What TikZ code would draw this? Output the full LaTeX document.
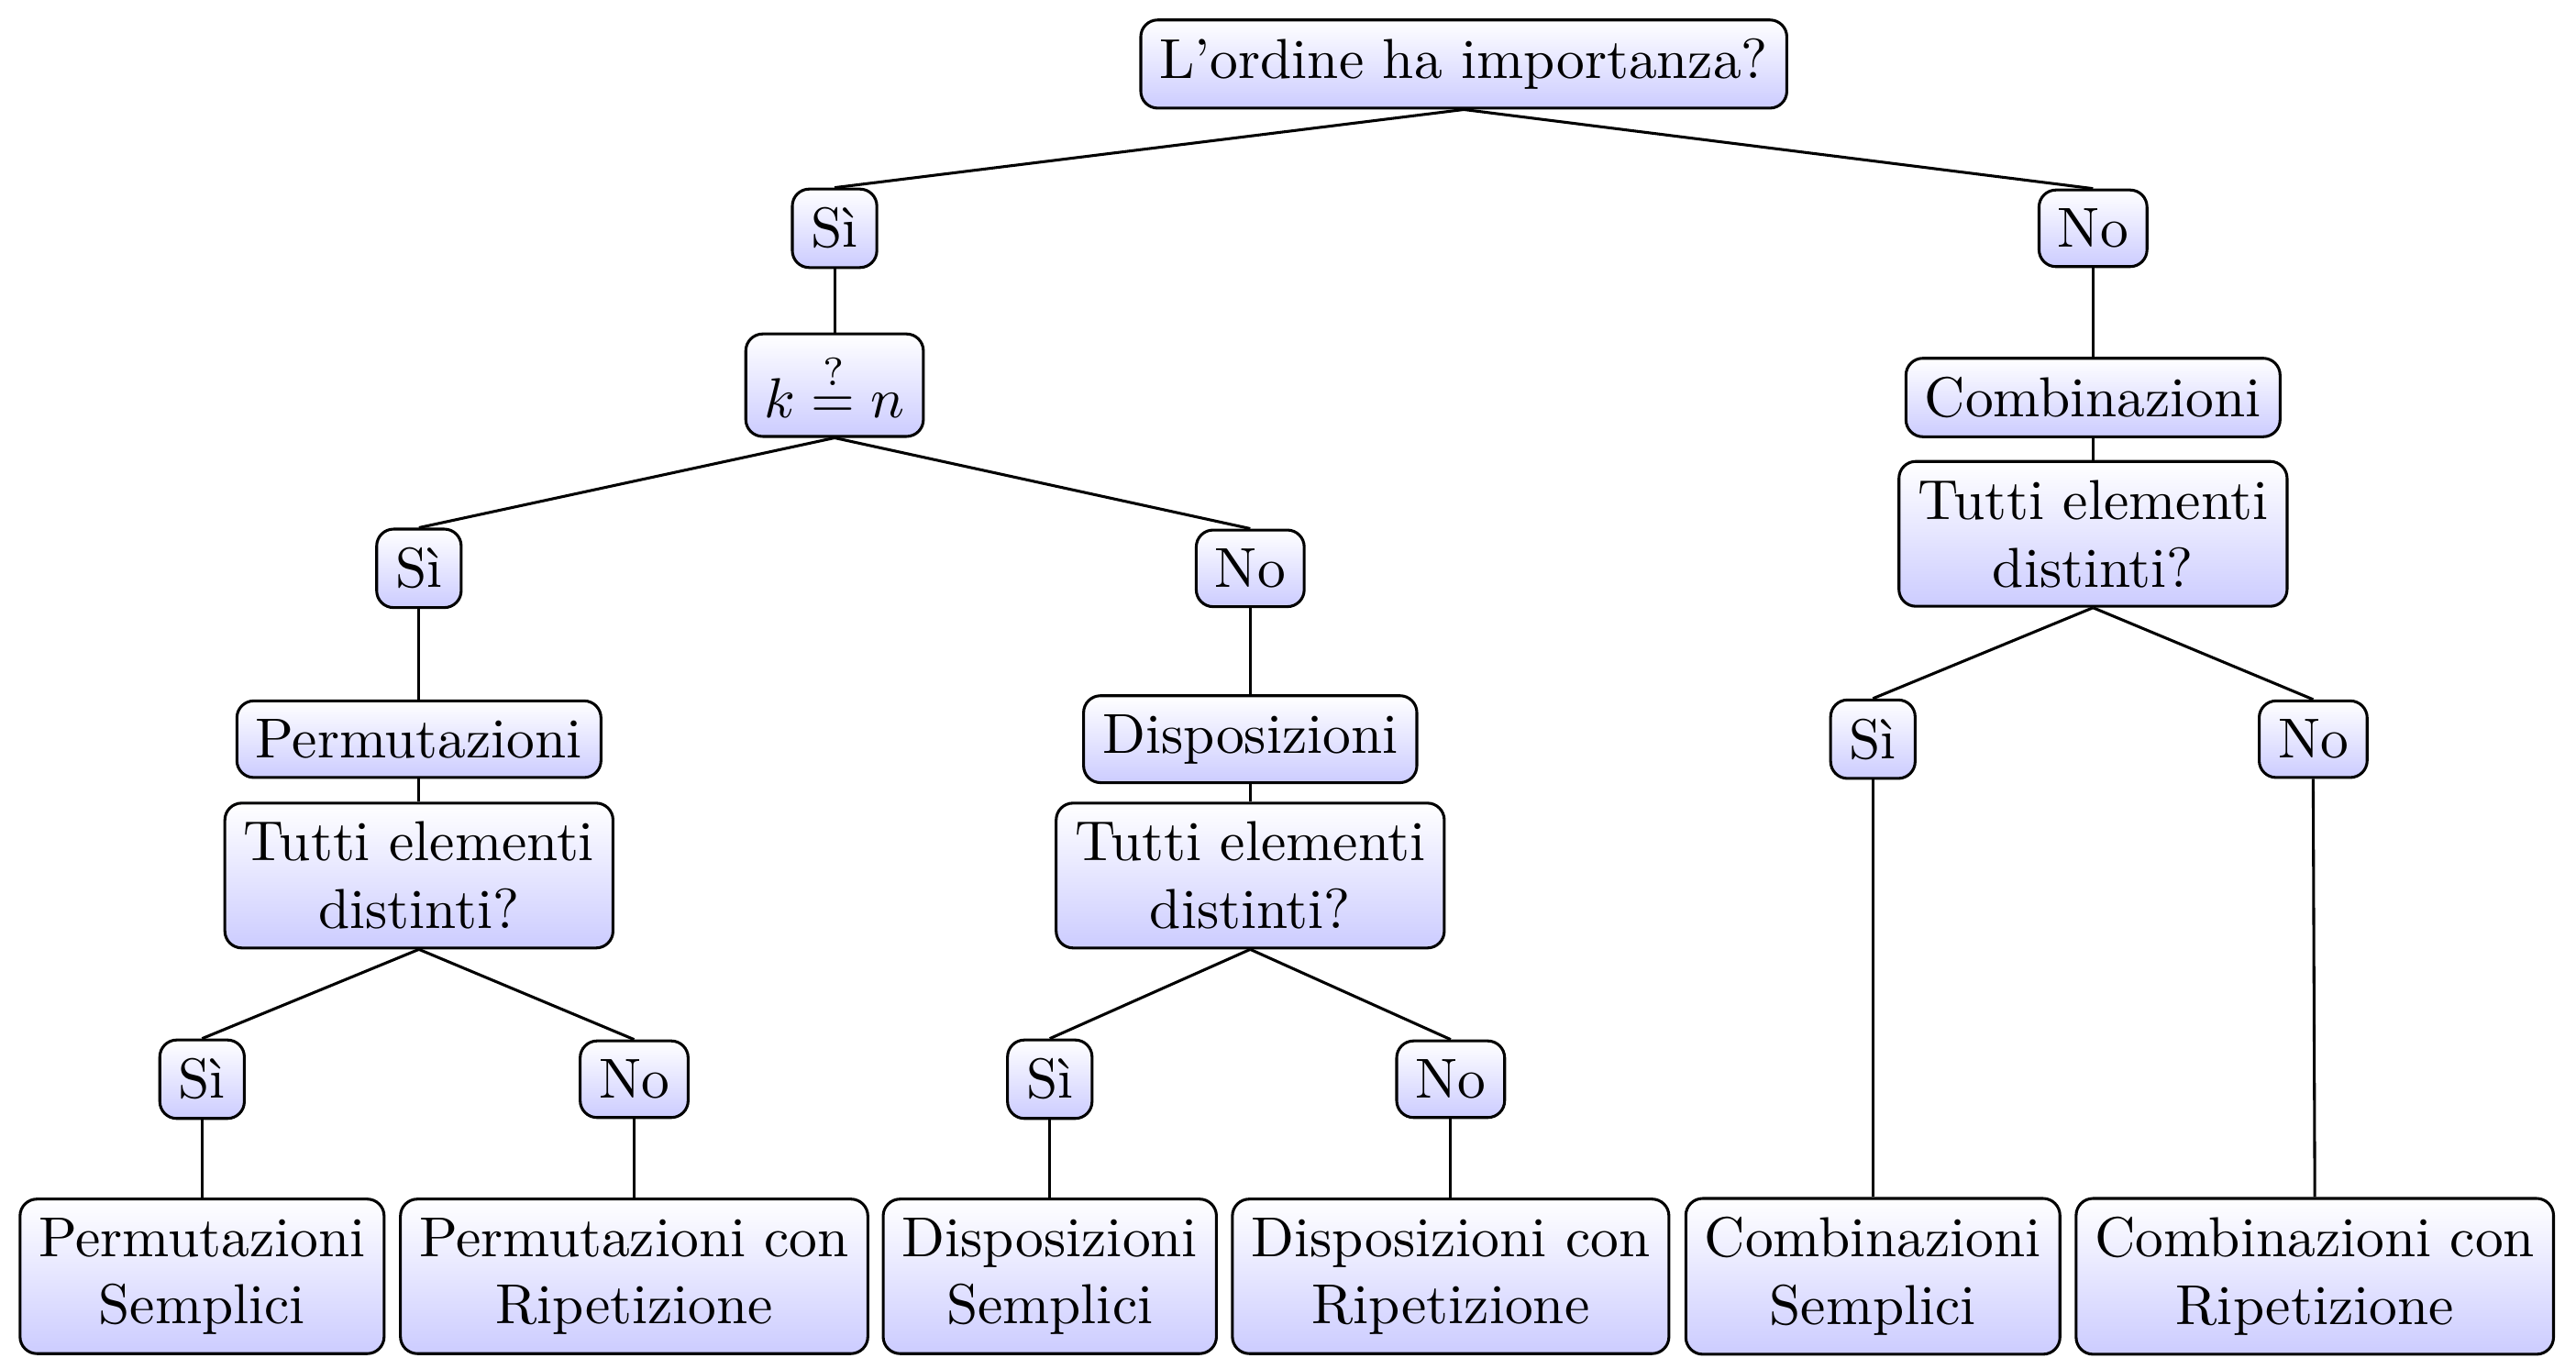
\documentclass[tikz,border=0pt]{standalone}
\begin{document}
\tikzset{
  box/.style={draw, line width=0.5pt, rounded corners=3pt, top color=white, bottom color=blue!20, align=center, inner sep=3.33pt},
  link/.style={line width=0.5pt}
}
\begin{tikzpicture}[x=0.29155pt, y=-0.29155pt]
\useasboundingbox (0,0) rectangle (1568,833);
\node[box] (top) at (891,39) {L'ordine ha importanza?};
\node[box] (s1) at (508,139) {Sì};
\node[box] (n1) at (1274,139) {No};
\node[box] (k) at (508,234.5) {$k \stackrel{?}{=} n$};
\node[box] (comb) at (1274,242) {Combinazioni};
\node[box] (tedR) at (1274,325) {Tutti elementi\\distinti?};
\node[box] (s2) at (255,346) {Sì};
\node[box] (n2) at (761,346) {No};
\node[box] (perm) at (255,450) {Permutazioni};
\node[box] (disp) at (761,450) {Disposizioni};
\node[box] (s3) at (1140,450) {Sì};
\node[box] (n3) at (1408,450) {No};
\node[box] (tedL) at (255,533) {Tutti elementi\\distinti?};
\node[box] (tedM) at (761,533) {Tutti elementi\\distinti?};
\node[box] (s4) at (123,657) {Sì};
\node[box] (n4) at (386,657) {No};
\node[box] (s5) at (639,657) {Sì};
\node[box] (n5) at (883,657) {No};
\node[box] (b1) at (123,777) {Permutazioni\\Semplici};
\node[box] (b2) at (386,777) {Permutazioni con\\Ripetizione};
\node[box] (b3) at (639,777) {Disposizioni\\Semplici};
\node[box] (b4) at (883,777) {Disposizioni con\\Ripetizione};
\node[box] (b5) at (1140,777) {Combinazioni\\Semplici};
\node[box] (b6) at (1409,777) {Combinazioni con\\Ripetizione};
\draw[link] (top.south) -- (s1.north);
\draw[link] (top.south) -- (n1.north);
\draw[link] (s1.south) -- (k.north);
\draw[link] (n1.south) -- (comb.north);
\draw[link] (comb.south) -- (tedR.north);
\draw[link] (k.south) -- (s2.north);
\draw[link] (k.south) -- (n2.north);
\draw[link] (s2.south) -- (perm.north);
\draw[link] (n2.south) -- (disp.north);
\draw[link] (perm.south) -- (tedL.north);
\draw[link] (disp.south) -- (tedM.north);
\draw[link] (tedR.south) -- (s3.north);
\draw[link] (tedR.south) -- (n3.north);
\draw[link] (tedL.south) -- (s4.north);
\draw[link] (tedL.south) -- (n4.north);
\draw[link] (tedM.south) -- (s5.north);
\draw[link] (tedM.south) -- (n5.north);
\draw[link] (s4.south) -- (b1.north);
\draw[link] (n4.south) -- (b2.north);
\draw[link] (s5.south) -- (b3.north);
\draw[link] (n5.south) -- (b4.north);
\draw[link] (s3.south) -- (b5.north);
\draw[link] (n3.south) -- (b6.north);
\end{tikzpicture}
\end{document}
